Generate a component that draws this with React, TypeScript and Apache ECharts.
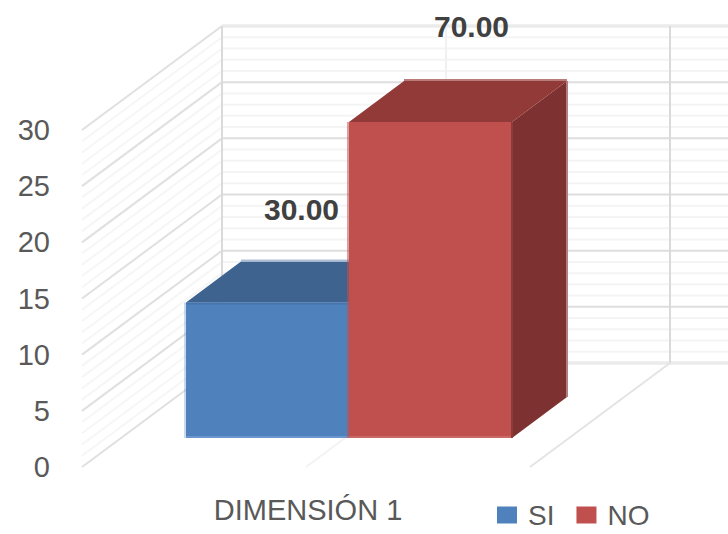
import React, { useEffect, useRef } from "react";
import * as echarts from "echarts";

const CATEGORIES = ["DIMENSIÓN 1"];
const SERIES_NAMES = ["SI", "NO"];
const SI_VALUES = [30];
const NO_VALUES = [70];
const AXIS_MAX = 30;
const BAR_AXIS_MAX = 70;
const WALL_TICKS = Array.from({ length: AXIS_MAX + 1 }, (_, i) => i);
const WALL_DIVISIONS = [0, 0.5, 1];

const FONT = '"Liberation Sans", Arial, sans-serif';
const TEXT = "#595959";
const WALL_DX = 140;
const WALL_DY = -104;
const BAR_DX = 55;
const BAR_DY = -41;

const PALETTES = [
  { front: "#4F81BD", top: "#3F638F", side: "#3F638F", left: "rgba(79,129,189,0.3)", bottom: "#6A96CF", topEdge: "#4774AB", back: "#AEBFD8", right: "#8FA6C6" },
  { front: "#C0504D", top: "#923A38", side: "#7D3130", left: "rgba(192,80,77,0.55)", bottom: "#CB6966", topEdge: "#C0504D", back: "#B87C7A", right: "#B27F7E" },
];
const LABEL_SHIFT = [
  { dx: 34, dy: -93 },
  { dx: 41, dy: -96 },
];

const line = (x1: number, y1: number, x2: number, y2: number, stroke: string, lineWidth = 2) => ({
  type: "line",
  silent: true,
  shape: { x1, y1, x2, y2 },
  style: { stroke, lineWidth, fill: null },
});

const renderWallTick = (params: any, api: any) => {
  const v = api.value(1);
  const major = v % 5 === 0;
  const [, y] = api.coord([api.value(0), v]);
  const cs = params.coordSys;
  const edge = v === 0 || v === AXIS_MAX;
  const h = edge ? "#EBEBEB" : major ? "#DEDEDE" : "#F4F4F4";
  return {
    type: "group",
    children: [
      line(cs.x, y, cs.x + WALL_DX, y + WALL_DY, major ? "#E0E0E0" : "#F6F6F6", 2),
      line(cs.x + WALL_DX, y + WALL_DY, 728, y + WALL_DY, h, edge ? 3.5 : 2),
    ],
  };
};

const renderWallDivision = (params: any, api: any) => {
  const f = api.value(1);
  const cs = params.coordSys;
  const x = cs.x + cs.width * f;
  const bottom = cs.y + cs.height;
  const faint = f === 0.5;
  const children: any[] = [
    line(x + WALL_DX, cs.y + WALL_DY, x + WALL_DX, bottom + WALL_DY, faint ? "#F1F1F1" : "#DADADA", 2),
  ];
  if (f > 0) children.push(line(x, bottom, x + WALL_DX, bottom + WALL_DY, faint ? "#F3F3F3" : "#E4E4E4", 2));
  return { type: "group", children };
};

const makeBarRenderer = (index: number) => (_params: any, api: any) => {
  const value = api.value(1);
  const [cx, topY] = api.coord([api.value(0), value]);
  const [, baseY] = api.coord([api.value(0), 0]);
  const band = api.size([1, 0])[0];
  const w = band / SERIES_NAMES.length;
  const x0 = cx - band / 2 + index * w;
  const x1 = x0 + w;
  const p = PALETTES[index];
  const shift = LABEL_SHIFT[index];
  const poly = (points: number[][], fill: string) => ({
    type: "polygon",
    shape: { points },
    style: { fill },
  });
  return {
    type: "group",
    children: [
      poly([[x1, topY], [x1 + BAR_DX, topY + BAR_DY], [x1 + BAR_DX, baseY + BAR_DY], [x1, baseY]], p.side),
      poly([[x0, topY], [x0 + BAR_DX, topY + BAR_DY], [x1 + BAR_DX, topY + BAR_DY], [x1, topY]], p.top),
      line(x0 + BAR_DX, topY + BAR_DY - 1, x1 + BAR_DX, topY + BAR_DY - 1, p.back, 2),
      line(x1 + BAR_DX, topY + BAR_DY, x1 + BAR_DX, baseY + BAR_DY, p.right, 2),
      {
        type: "rect",
        shape: { x: x0, y: topY, width: w, height: baseY - topY },
        style: { fill: p.front },
      },
      line(x0, topY + 1, x1, topY + 1, p.topEdge, 2),
      line(x0 - 1, topY, x0 - 1, baseY, p.left, 2),
      line(x0, baseY - 1, x1, baseY - 1, p.bottom, 2),
      line(x1, topY, x1, baseY, "#8E3A38", index === 1 ? 2 : 0),
      {
        type: "text",
        x: (x0 + x1) / 2 + shift.dx,
        y: topY + shift.dy,
        style: {
          text: value.toFixed(2),
          fill: "#404040",
          font: `bold 30px ${FONT}`,
          align: "center",
          verticalAlign: "middle",
        },
      },
    ],
  };
};

export default function App() {
  const ref = useRef<HTMLDivElement>(null);

  useEffect(() => {
    const chart = echarts.init(ref.current as HTMLDivElement, undefined, { renderer: "svg" });
    chart.setOption({
      animation: false,
      backgroundColor: "#ffffff",
      grid: [
        { left: 82, top: 130, width: 448, height: 337, containLabel: false },
        { left: 186, top: 122, width: 326, height: 316, containLabel: false },
      ],
      xAxis: [
        {
          type: "category",
          gridIndex: 0,
          data: CATEGORIES,
          axisLine: { show: false },
          axisTick: { show: false },
          splitLine: { show: false },
          axisLabel: { color: TEXT, fontFamily: FONT, fontSize: 29, margin: 28, padding: [0, 0, 0, 4] },
        },
        { type: "category", gridIndex: 1, data: CATEGORIES, show: false },
      ],
      yAxis: [
        {
          type: "value",
          gridIndex: 0,
          min: 0,
          max: AXIS_MAX,
          interval: 5,
          axisLine: { show: false },
          axisTick: { show: false },
          splitLine: { show: false },
          axisLabel: { color: TEXT, fontFamily: FONT, fontSize: 29, margin: 32, padding: [3, 0, 0, 0] },
        },
        { type: "value", gridIndex: 1, min: 0, max: BAR_AXIS_MAX, show: false },
      ],
      legend: {
        data: SERIES_NAMES.map((name) => ({ name, icon: "rect" })),
        left: 492,
        top: 496,
        itemWidth: 20,
        itemHeight: 17,
        itemGap: 22,
        selectedMode: false,
        textStyle: { color: TEXT, fontFamily: FONT, fontSize: 28, padding: [0, 0, 0, 6] },
      },
      series: [
        {
          type: "custom",
          xAxisIndex: 0,
          yAxisIndex: 0,
          silent: true,
          renderItem: renderWallTick,
          encode: { x: 0, y: 1 },
          data: WALL_TICKS.map((v) => [0, v]),
          z: 1,
        },
        {
          type: "custom",
          xAxisIndex: 0,
          yAxisIndex: 0,
          silent: true,
          renderItem: renderWallDivision,
          encode: { x: 0 },
          data: WALL_DIVISIONS.map((f) => [0, f]),
          z: 1,
        },
        {
          type: "custom",
          name: SERIES_NAMES[0],
          xAxisIndex: 1,
          yAxisIndex: 1,
          silent: true,
          itemStyle: { color: PALETTES[0].front },
          renderItem: makeBarRenderer(0),
          encode: { x: 0, y: 1 },
          data: SI_VALUES.map((v, i) => [i, v]),
          z: 2,
        },
        {
          type: "custom",
          name: SERIES_NAMES[1],
          xAxisIndex: 1,
          yAxisIndex: 1,
          silent: true,
          itemStyle: { color: PALETTES[1].front },
          renderItem: makeBarRenderer(1),
          encode: { x: 0, y: 1 },
          data: NO_VALUES.map((v, i) => [i, v]),
          z: 3,
        },
      ],
    });
    return () => chart.dispose();
  }, []);

  return <div ref={ref} style={{ position: "absolute", left: 0, top: 0, width: 728, height: 534 }} />;
}
